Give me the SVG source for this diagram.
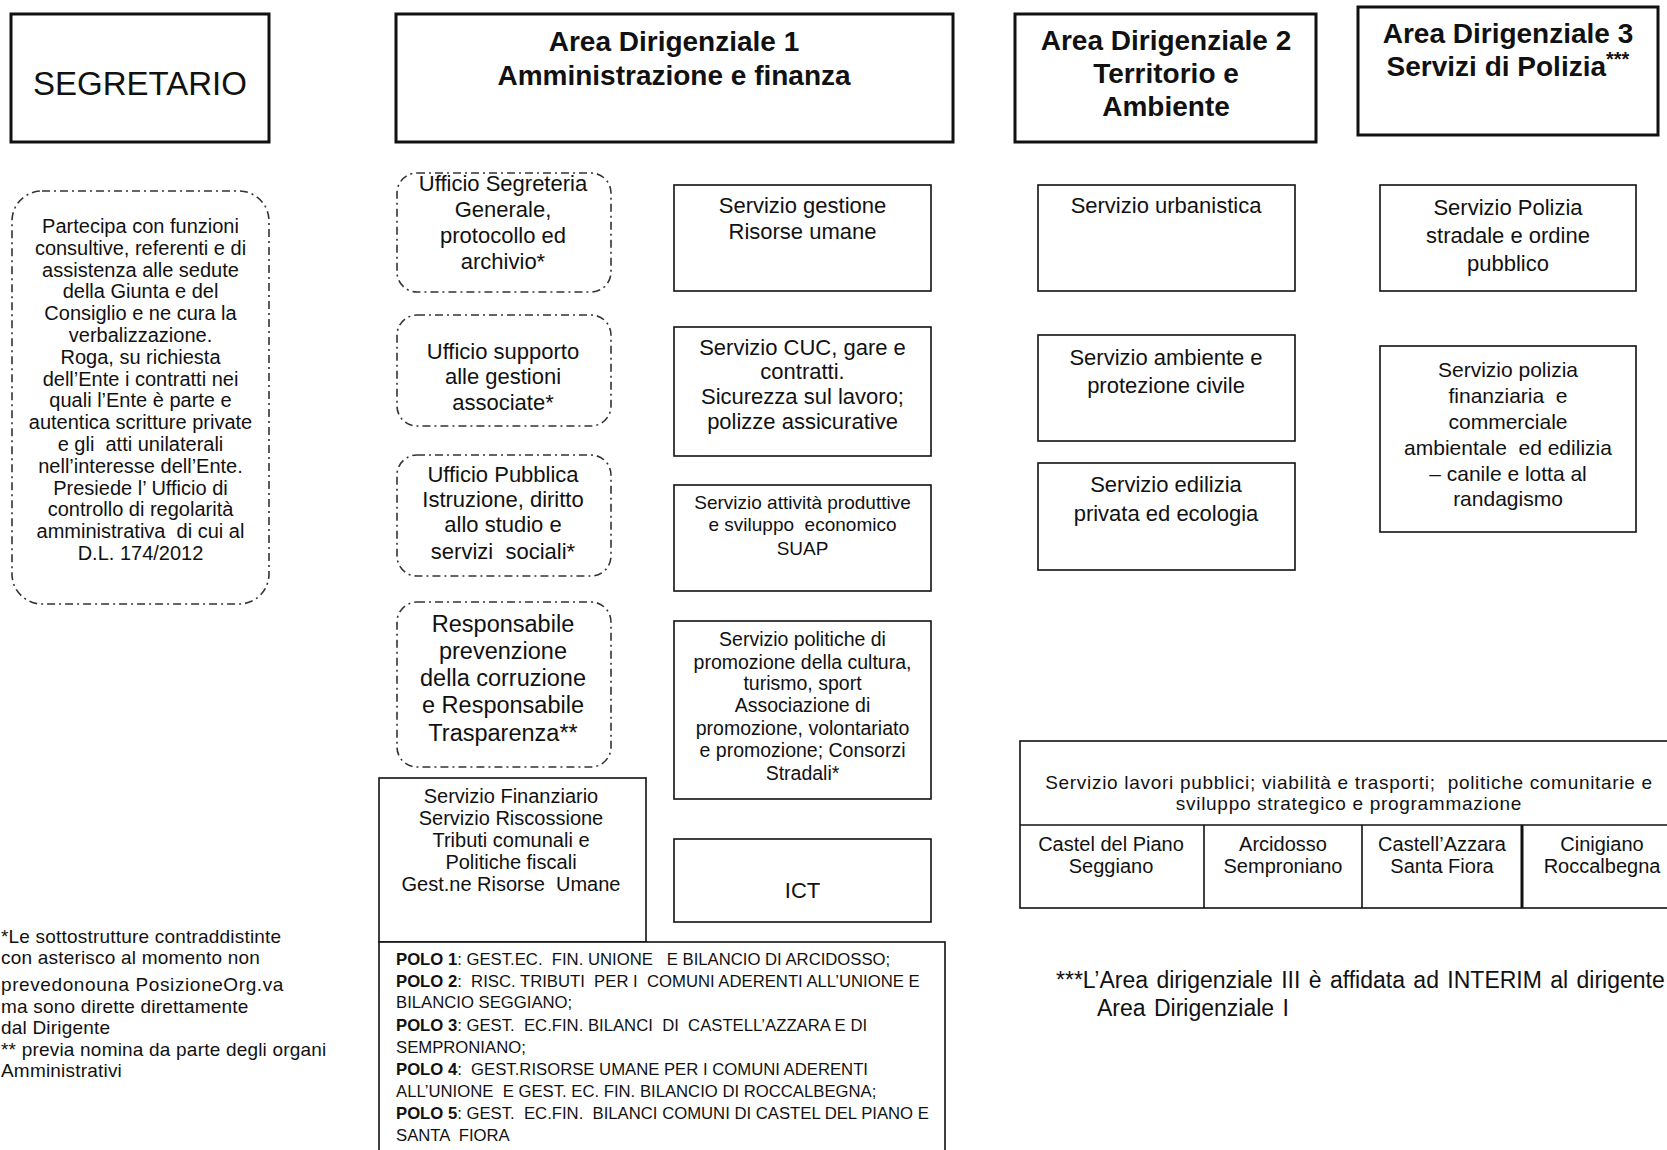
<svg xmlns="http://www.w3.org/2000/svg" width="1667" height="1150" viewBox="0 0 1667 1150" xml:space="preserve">
<style>
.bg{fill:#fff}
.hdr{fill:#fff;stroke:#111;stroke-width:3}
.box{fill:#fff;stroke:#111;stroke-width:1.6}
.dash{fill:#fff;stroke:#333;stroke-width:1.6;stroke-dasharray:8 4 2 4}
text{font-family:"Liberation Sans",Arial,sans-serif;fill:#111;white-space:pre}
.h{font-weight:bold;font-size:28px;text-anchor:middle}
.c{text-anchor:middle}
.t22{font-size:22px}
.t20{font-size:20px}
.t19{font-size:19px}
.t17{font-size:16.7px}
.b{font-weight:bold}
</style>
<rect class="bg" x="0" y="0" width="1667" height="1150"/>
<g id="segretario">
<rect class="hdr" x="11" y="14" width="258" height="128"/>
<text x="140" y="95" class="c" style="font-size:33px">SEGRETARIO</text>
</g>
<g id="area1">
<rect class="hdr" x="396" y="14" width="557" height="128"/>
<text class="h" x="674" y="51">Area Dirigenziale 1</text>
<text class="h" x="674" y="85">Amministrazione e finanza</text>
</g>
<g id="area2">
<rect class="hdr" x="1015" y="14" width="301" height="128"/>
<text class="h" x="1166" y="50">Area Dirigenziale 2</text>
<text class="h" x="1166" y="83">Territorio e</text>
<text class="h" x="1166" y="116">Ambiente</text>
</g>
<g id="area3">
<rect class="hdr" x="1358" y="7" width="300" height="128"/>
<text class="h" x="1508" y="43">Area Dirigenziale 3</text>
<text class="h" x="1508" y="76">Servizi di Polizia<tspan style="font-size:20px" dy="-10">***</tspan></text>
</g>
<g id="segretario-funzioni">
<rect class="dash" x="12" y="191" width="257" height="413" rx="30" ry="30"/>
<g class="c t20">
<text x="140.5" y="233">Partecipa con funzioni</text>
<text x="140.5" y="255">consultive, referenti e di</text>
<text x="140.5" y="277">assistenza alle sedute</text>
<text x="140.5" y="298">della Giunta e del</text>
<text x="140.5" y="320">Consiglio e ne cura la</text>
<text x="140.5" y="342">verbalizzazione.</text>
<text x="140.5" y="364">Roga, su richiesta</text>
<text x="140.5" y="386">dell’Ente i contratti nei</text>
<text x="140.5" y="407">quali l’Ente è parte e</text>
<text x="140.5" y="429">autentica scritture private</text>
<text x="140.5" y="451">e gli  atti unilaterali</text>
<text x="140.5" y="473">nell’interesse dell’Ente.</text>
<text x="140.5" y="495">Presiede l’ Ufficio di</text>
<text x="140.5" y="516">controllo di regolarità</text>
<text x="140.5" y="538">amministrativa  di cui al</text>
<text x="140.5" y="560">D.L. 174/2012</text>
</g>
</g>
<g id="ufficio-segreteria">
<rect class="dash" x="397" y="173" width="214" height="119" rx="20" ry="20"/>
<g class="c t22">
<text x="503" y="191">Ufficio Segreteria</text>
<text x="503" y="217">Generale,</text>
<text x="503" y="243">protocollo ed</text>
<text x="503" y="269">archivio*</text>
</g>
</g>
<g id="ufficio-supporto">
<rect class="dash" x="397" y="315" width="214" height="111" rx="20" ry="20"/>
<g class="c t22">
<text x="503" y="359">Ufficio supporto</text>
<text x="503" y="384">alle gestioni</text>
<text x="503" y="410">associate*</text>
</g>
</g>
<g id="ufficio-istruzione">
<rect class="dash" x="397" y="455" width="214" height="121" rx="20" ry="20"/>
<g class="c t22">
<text x="503" y="482">Ufficio Pubblica</text>
<text x="503" y="507">Istruzione, diritto</text>
<text x="503" y="532">allo studio e</text>
<text x="503" y="559">servizi  sociali*</text>
</g>
</g>
<g id="responsabile-corruzione">
<rect class="dash" x="397" y="602" width="214" height="165" rx="20" ry="20"/>
<g class="c" style="font-size:23.5px">
<text x="503" y="632">Responsabile</text>
<text x="503" y="659">prevenzione</text>
<text x="503" y="686">della corruzione</text>
<text x="503" y="713">e Responsabile</text>
<text x="503" y="741">Trasparenza**</text>
</g>
</g>
<g id="servizio-risorse-umane">
<rect class="box" x="674" y="185" width="257" height="106"/>
<g class="c t22">
<text x="802.5" y="213">Servizio gestione</text>
<text x="802.5" y="239">Risorse umane</text>
</g>
</g>
<g id="servizio-cuc">
<rect class="box" x="674" y="327" width="257" height="129"/>
<g class="c t22">
<text x="802.5" y="355">Servizio CUC, gare e</text>
<text x="802.5" y="379">contratti.</text>
<text x="802.5" y="404">Sicurezza sul lavoro;</text>
<text x="802.5" y="429">polizze assicurative</text>
</g>
</g>
<g id="servizio-attivita">
<rect class="box" x="674" y="485" width="257" height="106"/>
<g class="c t19">
<text x="802.5" y="509">Servizio attività produttive</text>
<text x="802.5" y="531">e sviluppo  economico</text>
<text x="802.5" y="555">SUAP</text>
</g>
</g>
<g id="servizio-politiche">
<rect class="box" x="674" y="621" width="257" height="178"/>
<g class="c" style="font-size:19.5px">
<text x="802.5" y="646">Servizio politiche di</text>
<text x="802.5" y="669">promozione della cultura,</text>
<text x="802.5" y="690">turismo, sport</text>
<text x="802.5" y="712">Associazione di</text>
<text x="802.5" y="735">promozione, volontariato</text>
<text x="802.5" y="757">e promozione; Consorzi</text>
<text x="802.5" y="780">Stradali*</text>
</g>
</g>
<g id="ict">
<rect class="box" x="674" y="839" width="257" height="83"/>
<text x="802.5" y="898" class="c t22">ICT</text>
</g>
<g id="servizio-finanziario">
<rect class="box" x="379" y="778" width="267" height="164"/>
<g class="c t20">
<text x="511" y="803">Servizio Finanziario</text>
<text x="511" y="825">Servizio Riscossione</text>
<text x="511" y="847">Tributi comunali e</text>
<text x="511" y="869">Politiche fiscali</text>
<text x="511" y="891">Gest.ne Risorse  Umane</text>
</g>
</g>
<g id="poli">
<rect class="box" x="379" y="942" width="566" height="215"/>
<g class="t17">
<text x="396" y="965"><tspan class="b">POLO 1</tspan>: GEST.EC.  FIN. UNIONE   E BILANCIO DI ARCIDOSSO;</text>
<text x="396" y="987"><tspan class="b">POLO 2</tspan>:  RISC. TRIBUTI  PER I  COMUNI ADERENTI ALL’UNIONE E</text>
<text x="396" y="1008">BILANCIO SEGGIANO;</text>
<text x="396" y="1031"><tspan class="b">POLO 3</tspan>: GEST.  EC.FIN. BILANCI  DI  CASTELL’AZZARA E DI</text>
<text x="396" y="1053">SEMPRONIANO;</text>
<text x="396" y="1075"><tspan class="b">POLO 4</tspan>:  GEST.RISORSE UMANE PER I COMUNI ADERENTI</text>
<text x="396" y="1097">ALL’UNIONE  E GEST. EC. FIN. BILANCIO DI ROCCALBEGNA;</text>
<text x="396" y="1119"><tspan class="b">POLO 5</tspan>: GEST.  EC.FIN.  BILANCI COMUNI DI CASTEL DEL PIANO E</text>
<text x="396" y="1141">SANTA  FIORA</text>
</g>
</g>
<g id="servizio-urbanistica">
<rect class="box" x="1038" y="185" width="257" height="106"/>
<text x="1166" y="213" class="c t22">Servizio urbanistica</text>
</g>
<g id="servizio-ambiente">
<rect class="box" x="1038" y="335" width="257" height="106"/>
<g class="c t22">
<text x="1166" y="365">Servizio ambiente e</text>
<text x="1166" y="393">protezione civile</text>
</g>
</g>
<g id="servizio-edilizia">
<rect class="box" x="1038" y="463" width="257" height="107"/>
<g class="c t22">
<text x="1166" y="492">Servizio edilizia</text>
<text x="1166" y="521">privata ed ecologia</text>
</g>
</g>
<g id="polizia-stradale">
<rect class="box" x="1380" y="185" width="256" height="106"/>
<g class="c t22">
<text x="1508" y="215">Servizio Polizia</text>
<text x="1508" y="243">stradale e ordine</text>
<text x="1508" y="271">pubblico</text>
</g>
</g>
<g id="polizia-finanziaria">
<rect class="box" x="1380" y="346" width="256" height="186"/>
<g class="c" style="font-size:21px">
<text x="1508" y="377">Servizio polizia</text>
<text x="1508" y="403">finanziaria  e</text>
<text x="1508" y="429">commerciale</text>
<text x="1508" y="455">ambientale  ed edilizia</text>
<text x="1508" y="481">– canile e lotta al</text>
<text x="1508" y="506">randagismo</text>
</g>
</g>
<g id="lavori-pubblici">
<rect class="box" x="1020" y="741" width="700" height="167"/>
<line x1="1020" y1="825" x2="1667" y2="825" stroke="#111" stroke-width="1.6"/>
<line x1="1204" y1="825" x2="1204" y2="908" stroke="#111" stroke-width="1.6"/>
<line x1="1362" y1="825" x2="1362" y2="908" stroke="#111" stroke-width="1.6"/>
<line x1="1522" y1="825" x2="1522" y2="908" stroke="#111" stroke-width="3"/>
<g class="c t19" style="letter-spacing:0.7px">
<text x="1349" y="789">Servizio lavori pubblici; viabilità e trasporti;  politiche comunitarie e</text>
<text x="1349" y="810">sviluppo strategico e programmazione</text>
</g>
<g class="c t20">
<text x="1111" y="851">Castel del Piano</text>
<text x="1111" y="873">Seggiano</text>
<text x="1283" y="851">Arcidosso</text>
<text x="1283" y="873">Semproniano</text>
<text x="1442" y="851">Castell’Azzara</text>
<text x="1442" y="873">Santa Fiora</text>
<text x="1602" y="851">Cinigiano</text>
<text x="1602" y="873">Roccalbegna</text>
</g>
</g>
<g id="note-sinistra" class="t19" style="letter-spacing:0.2px">
<text x="1" y="943">*Le sottostrutture contraddistinte</text>
<text x="1" y="964">con asterisco al momento non</text>
<text x="1" y="991" style="letter-spacing:0.6px">prevedonouna PosizioneOrg.va</text>
<text x="1" y="1013">ma sono dirette direttamente</text>
<text x="1" y="1034">dal Dirigente</text>
<text x="1" y="1056">** previa nomina da parte degli organi</text>
<text x="1" y="1077">Amministrativi</text>
</g>
<g id="nota-area3" style="font-size:23px;word-spacing:2px">
<text x="1056" y="988">***L’Area dirigenziale III è affidata ad INTERIM al dirigente</text>
<text x="1097" y="1016">Area Dirigenziale I</text>
</g>
<g id="connectors"></g>
</svg>
